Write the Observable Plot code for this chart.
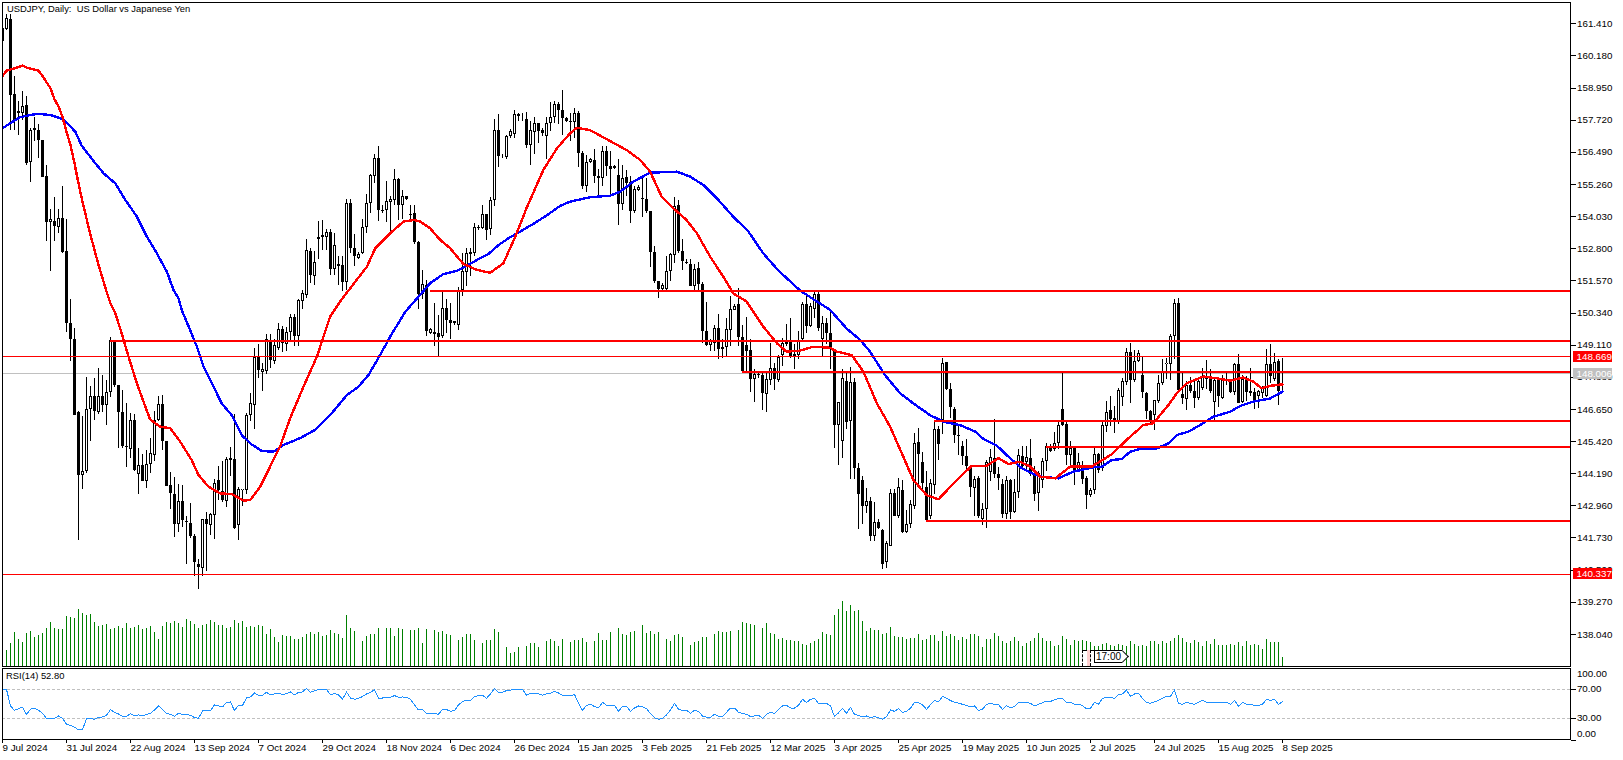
<!DOCTYPE html>
<html><head><meta charset="utf-8">
<script src="https://cdn.jsdelivr.net/npm/d3@7"></script>
<script src="https://cdn.jsdelivr.net/npm/@observablehq/plot@0.6"></script>
<style>
html,body{margin:0;padding:0;background:#fff;overflow:hidden}
#stage{position:relative;width:1623px;height:760px;overflow:hidden;font-family:"Liberation Sans",Arial,sans-serif}
#stage svg{position:absolute;left:0}
.w{position:absolute;box-sizing:border-box}
</style></head><body><div id="stage"></div>
<script>
const opens=[161.24,161.20,161.58,158.71,158.07,157.96,158.29,156.09,157.33,157.34,
156.96,155.55,153.80,153.86,153.61,153.96,152.71,149.92,149.31,146.55,
144.12,144.27,146.65,147.13,146.52,147.16,146.79,147.30,149.27,147.55,
146.55,145.23,145.12,146.24,144.17,144.52,143.89,144.55,144.90,146.24,
146.84,145.44,143.72,143.41,142.23,143.12,142.37,142.27,141.78,140.72,
140.57,142.42,142.20,142.58,143.91,143.50,143.12,144.71,144.75,142.20,
143.54,143.53,146.41,146.79,148.67,148.07,148.10,149.27,148.48,148.99,
149.69,149.15,149.60,150.18,149.43,150.78,151.00,152.71,151.73,153.14,
153.24,153.24,153.42,151.99,152.20,152.14,151.50,154.54,152.82,152.43,
152.60,153.62,154.54,155.56,156.26,154.28,154.26,154.58,154.64,155.46,
154.45,154.79,154.12,154.13,153.03,151.06,151.39,149.56,149.60,149.54,
149.43,150.52,150.06,149.92,149.86,151.20,151.89,152.65,152.60,153.62,
153.58,154.12,153.52,154.65,157.31,156.31,156.29,157.09,157.18,157.94,
157.88,157.73,156.77,157.26,157.60,157.31,157.11,157.60,157.83,158.33,
158.10,157.79,157.68,157.64,157.96,156.43,155.18,156.11,156.16,155.57,
155.48,156.54,155.94,155.94,155.62,154.51,155.51,155.33,154.22,155.02,
154.73,154.70,154.23,152.66,151.53,151.25,151.25,151.92,152.54,154.44,
152.71,152.28,152.20,151.35,152.03,151.45,149.65,149.08,149.18,149.73,
148.95,149.03,149.66,150.45,150.65,149.39,149.08,148.89,147.80,147.97,
147.93,147.23,147.75,148.23,147.75,148.73,149.15,149.24,148.67,148.73,
149.31,150.65,149.84,150.48,151.03,149.31,149.94,149.56,148.93,146.02,
145.42,147.71,146.17,147.69,144.40,143.91,142.95,143.14,141.78,142.33,
142.00,140.79,141.42,143.44,142.54,143.53,141.94,142.23,142.93,145.38,
144.63,143.67,142.54,143.73,145.89,146.21,148.45,147.42,146.63,145.64,
145.23,144.84,144.46,143.63,143.99,142.42,142.82,144.24,144.78,144.17,
143.78,142.61,143.91,142.70,143.46,144.84,144.61,144.78,144.14,143.44,
143.92,144.65,145.23,145.10,145.33,146.65,146.09,144.87,145.14,144.33,
144.37,143.99,143.34,143.56,144.91,144.37,145.99,146.59,146.31,146.15,
147.11,147.67,148.84,147.74,148.48,147.93,147.27,146.56,146.41,146.95,
147.65,148.37,148.35,149.43,150.71,147.23,147.04,147.55,147.35,147.05,
147.46,147.91,147.78,146.91,147.74,147.07,147.78,147.67,147.29,148.35,
146.91,147.78,147.27,147.30,147.14,147.27,147.14,148.35,147.78,148.48,148.07];
const highs=[161.24,161.78,161.75,159.41,158.43,158.83,158.61,157.41,157.83,157.57,
156.96,155.97,154.32,154.77,154.32,155.20,153.90,150.87,149.75,146.58,
146.37,147.88,147.52,147.82,148.23,147.93,147.75,149.39,149.27,147.55,
147.36,146.86,146.50,146.47,145.17,144.91,145.06,145.55,146.56,147.16,
147.20,145.44,144.23,144.04,143.78,143.72,142.57,143.06,141.87,140.91,
142.44,142.71,142.67,143.95,144.46,144.65,144.82,145.20,146.47,143.67,
143.59,146.50,147.24,148.99,149.12,148.39,149.50,149.52,149.31,149.95,
149.82,149.79,150.30,150.30,150.87,151.22,153.17,152.82,152.69,153.86,
153.87,153.54,153.54,153.39,152.52,152.52,154.67,154.67,153.36,152.65,
153.90,154.88,155.65,156.39,156.73,154.47,155.37,154.79,155.85,155.49,
155.01,154.79,154.46,154.47,153.07,151.95,151.60,149.75,150.71,150.24,
151.16,150.84,150.69,150.03,151.32,152.62,152.82,152.82,153.77,153.67,
154.45,154.12,154.77,157.75,157.92,156.39,157.15,157.37,158.08,157.98,
157.98,158.02,157.66,157.82,157.60,157.41,157.82,158.39,158.43,158.39,
158.84,157.82,157.98,158.17,158.05,156.54,156.35,156.26,156.60,155.84,
156.71,156.71,156.52,155.97,156.23,155.98,155.79,155.56,155.18,155.21,
155.53,155.49,154.23,152.88,151.54,151.48,152.50,152.62,154.77,154.64,
153.14,152.37,152.37,152.18,152.27,151.50,150.74,149.33,149.88,150.30,
149.33,150.14,150.97,150.65,151.28,149.88,150.18,149.33,148.19,148.03,
148.10,148.03,149.18,148.41,148.73,149.37,149.91,150.14,149.12,149.65,
150.74,151.03,150.71,151.16,151.16,150.20,150.14,150.46,148.93,146.92,
148.16,148.10,148.26,147.84,144.59,144.10,143.63,143.27,143.10,142.44,
142.04,141.59,143.57,143.57,144.01,143.92,142.78,143.18,145.74,145.93,
145.01,144.27,143.95,146.18,145.99,148.61,148.45,147.65,146.73,145.99,
145.44,145.48,144.52,144.08,144.08,143.05,144.71,145.10,146.27,144.43,
143.95,144.08,143.95,143.95,145.10,145.23,145.23,145.48,144.46,144.27,
144.78,145.35,145.29,145.76,146.18,148.01,146.15,145.42,145.14,144.95,
144.65,144.08,143.63,145.17,144.97,146.18,146.97,147.14,146.75,147.46,
147.84,148.99,149.18,148.89,148.89,148.63,147.29,146.59,147.01,147.93,
148.57,148.61,149.53,150.84,150.90,148.06,147.71,147.88,147.71,147.84,
148.23,148.52,148.16,147.84,147.84,147.93,148.03,147.75,148.41,148.77,
147.93,147.91,148.21,147.46,147.39,147.52,148.95,149.12,148.80,148.55,148.61];
const lows=[160.72,161.15,157.34,157.34,157.13,157.70,156.00,155.33,156.90,156.25,
155.52,153.07,151.92,153.07,153.39,152.62,149.59,148.48,146.40,141.65,
143.60,144.18,145.42,146.24,146.47,146.52,146.05,147.10,147.50,145.17,
145.17,144.42,144.78,144.27,143.41,143.89,143.63,144.18,144.65,146.18,
145.06,143.69,142.80,141.74,141.94,142.14,140.70,141.72,140.25,139.74,
140.27,140.44,141.82,141.69,143.16,143.09,142.89,144.08,142.06,141.63,
142.95,143.40,146.18,145.87,147.84,147.33,147.97,148.23,148.35,148.92,
148.82,148.86,149.22,149.05,149.05,150.48,150.90,151.48,151.41,152.37,
152.73,152.73,151.79,151.79,151.41,151.16,151.22,152.62,152.11,152.39,
152.56,153.39,154.16,155.30,153.84,154.16,153.80,153.46,154.45,153.87,
153.90,154.64,153.90,152.97,150.46,150.84,149.43,149.50,149.05,148.67,
149.37,149.56,149.31,149.88,149.66,150.97,151.35,151.73,152.50,153.49,
153.52,153.11,153.29,154.41,155.90,156.26,156.22,157.03,157.03,157.66,
157.66,156.62,155.98,156.39,156.84,157.09,156.20,157.28,157.60,157.54,
157.15,157.63,156.90,157.03,155.92,155.05,154.94,156.07,155.30,154.79,
155.18,155.56,154.86,155.84,153.68,154.28,154.79,153.75,154.16,154.98,
153.99,154.16,152.07,151.48,150.90,151.22,151.22,151.54,152.24,152.62,
151.96,152.21,151.35,151.22,151.22,149.18,149.05,148.86,148.86,148.56,
148.61,148.67,149.05,150.43,149.05,148.10,148.03,147.30,146.91,147.84,
146.60,146.52,147.55,147.39,147.67,148.29,149.05,148.61,148.16,148.55,
149.24,149.56,149.79,150.14,149.62,148.64,149.12,148.16,145.17,144.52,
144.78,145.87,143.95,143.95,142.04,142.23,142.67,141.59,141.59,142.06,
140.53,140.57,141.40,142.54,142.48,141.91,141.91,142.10,142.83,143.69,
143.50,142.38,142.42,143.41,144.71,145.68,147.36,146.31,145.36,144.87,
144.52,144.33,143.27,142.54,142.48,142.19,142.10,143.89,144.01,143.56,
142.48,142.42,142.42,142.67,143.24,144.33,144.33,144.08,143.14,142.76,
143.63,144.27,145.00,145.04,145.10,145.99,144.49,144.46,143.72,144.27,
143.76,142.80,143.28,143.41,144.20,144.27,145.78,145.99,145.71,146.09,
146.75,147.58,146.86,147.69,148.45,147.07,146.28,146.05,145.83,146.88,
147.58,147.78,147.75,148.57,147.37,146.82,146.60,147.24,146.69,147.01,
147.39,147.42,147.27,146.24,146.73,147.04,147.58,147.24,147.20,146.86,
146.88,146.95,147.16,146.65,146.69,147.07,147.11,147.65,147.71,146.79,147.33];
const closes=[160.72,161.62,158.68,157.66,157.97,158.26,156.07,157.33,157.41,156.94,
155.52,153.80,153.90,153.65,153.96,152.66,149.94,149.31,146.43,144.12,
144.29,146.65,147.14,146.56,147.16,146.79,147.30,149.28,147.55,146.52,
145.23,145.20,146.24,144.31,144.51,143.89,144.55,144.95,146.24,146.84,
145.42,143.69,143.42,142.23,143.14,142.39,142.34,141.78,140.79,140.59,
142.42,142.23,142.61,143.82,143.56,143.18,144.75,144.78,142.11,143.59,
143.59,146.43,146.88,148.63,148.13,148.16,149.31,148.52,149.08,149.71,
149.18,149.60,150.18,149.43,150.80,151.07,152.75,151.77,152.28,153.24,
153.31,153.42,151.99,152.94,152.11,151.50,154.54,152.80,152.50,152.59,
153.62,154.54,155.60,156.26,154.26,154.22,154.59,154.67,155.46,154.44,
154.79,154.67,154.09,153.03,151.03,151.44,149.63,149.69,149.50,149.41,
150.52,150.05,149.93,150.01,151.22,151.92,152.60,152.56,153.62,153.59,
154.12,153.49,154.65,157.31,156.32,156.29,157.11,157.28,157.94,157.88,
157.85,156.77,157.32,157.60,157.28,157.22,157.60,157.83,158.33,158.08,
157.78,157.66,157.63,157.96,156.43,155.18,156.11,156.20,155.56,155.48,
156.54,155.94,155.85,155.86,154.51,155.49,155.30,154.22,155.05,155.16,
154.70,154.22,152.65,151.54,151.25,151.41,151.94,152.56,154.41,152.71,
152.31,152.25,151.37,152.01,151.45,149.63,149.09,149.24,149.73,148.93,
149.03,149.69,150.48,150.58,149.39,148.10,148.86,147.78,147.97,147.94,
147.24,147.78,148.23,147.78,148.63,149.18,149.23,148.65,148.77,149.24,
150.67,149.84,150.58,151.03,149.75,149.94,149.54,148.99,146.02,146.92,
147.82,146.15,147.69,144.37,143.41,142.95,143.12,141.78,142.33,142.10,
140.73,141.50,143.44,142.57,143.67,141.94,142.25,143.02,145.33,144.91,
143.82,142.38,143.82,145.89,145.29,148.42,147.42,146.72,145.65,145.61,
144.84,144.46,143.66,143.97,142.54,142.82,144.61,144.82,144.14,143.99,
142.61,143.91,142.70,143.46,144.87,144.46,144.82,144.14,143.41,144.18,
144.65,145.23,145.04,145.35,146.05,146.05,144.87,145.17,144.33,144.61,
143.95,143.34,143.56,144.91,144.33,146.02,146.52,146.28,146.22,147.39,
147.71,148.84,147.74,148.50,148.80,147.29,146.56,146.22,146.98,147.65,
148.10,148.42,149.43,150.71,147.39,147.05,147.56,147.33,147.05,147.71,
147.91,147.78,147.33,147.74,147.14,147.74,147.71,147.30,148.35,146.88,
147.78,147.29,147.35,146.95,147.33,147.46,148.35,147.91,148.44,147.33,148.006];

const volumes=[0,51,72,105,84,75,102,108,90,96,102,117,135,117,114,114,153,150,147,174,162,156,159,135,123,126,129,114,117,123,
117,132,117,120,126,114,117,123,105,84,123,135,132,138,132,120,144,138,129,117,126,129,141,135,126,126,117,120,141,132,
138,120,123,120,126,123,99,114,90,75,96,93,93,84,84,90,99,105,99,105,93,96,111,102,99,87,156,117,108,0,
78,93,99,99,117,0,117,117,93,117,114,0,111,111,117,72,114,3,111,105,108,99,96,0,81,90,99,99,81,0,
72,81,81,114,105,0,60,42,45,60,0,63,72,72,60,0,78,84,78,63,84,0,75,81,81,87,75,0,78,102,
81,81,105,0,117,99,96,105,108,3,126,102,108,99,105,0,84,78,96,99,90,0,66,75,78,90,90,0,99,108,
105,105,108,0,111,135,132,129,126,0,117,132,102,99,84,87,81,81,78,78,69,66,72,78,84,105,99,96,156,174,
198,168,186,168,171,138,108,117,111,111,99,102,120,93,90,90,84,87,87,99,81,84,96,96,78,108,93,99,93,81,
90,84,99,99,93,60,84,84,102,93,78,72,78,90,78,63,72,78,87,102,87,78,78,63,66,93,84,66,81,78,
81,78,75,63,63,69,72,66,63,69,66,63,78,69,63,66,63,78,78,69,78,72,78,87,96,87,75,72,81,75,
63,78,69,84,66,66,66,69,66,75,63,78,66,69,66,54,84,75,75,75,30];

const rsi=[70,70,47,41,43.3,45.2,35.5,42.4,44.2,41,37,30,30,30,33.2,30,21.7,20.3,17.6,14.3,
14.3,29.5,30,28.6,31.4,31.8,34.1,42,38.3,36,32.7,32.7,36.4,33.2,34.6,33.2,35.5,36.9,41.5,47,
42.4,36.9,35.5,32.7,36.9,35.5,35,34.1,30.9,30,40.1,40.4,40.6,48.4,47,45.6,52.1,52.5,40.6,47.9,
47.9,58,59.4,64.9,61.7,61.7,65.9,62.2,63.6,64.5,62.6,64,66.3,62.2,65.9,66.3,71.4,65.9,67.7,70,
70,70,62.2,64.5,62.2,56.2,66.3,58,56.2,57.6,60,63.6,66,69.1,58,58,58.5,59,61.3,59,
59.4,59,56.2,48.4,41.5,42.4,36.9,36.9,36.5,35.5,42.4,42,39.6,40.6,48.4,53,54.8,54.8,59.9,61.3,
61.7,57.6,63.6,71.4,65.9,65.9,68.2,69,70,70,70,61.7,64.5,64,63.6,61.7,64,64.5,67.3,65,
61.7,61,60.8,63.1,50.7,41,47.9,49.3,46.1,44.2,52.1,47.9,47.9,47.9,39.6,46.5,46.5,39.6,44.2,47,
46.1,43.3,36.4,30.9,28.6,30,34.6,41.5,50.7,42.4,41,41,36.9,41,39.6,33.2,31.4,31.4,35.5,32.7,
32.7,38.3,44.2,44.2,38.3,36.9,35.5,32.3,33.2,34.1,30,35.5,38.3,36.9,42.4,47,47.9,44.2,44.2,47.9,
56.2,51.6,56.2,57.6,50.7,50.7,50.7,47,32.3,37.5,43.8,36.9,45.2,35.5,33.7,32.3,33.2,30.9,32.3,30.9,
28.6,32.3,41.5,39.6,43.3,38.3,39.6,43.8,52.1,51.6,48.4,42.4,48.8,54.4,52.5,60.3,57.6,54.4,52.1,51,
49.3,47.7,46.1,47,41,42.4,49.3,50.7,49.3,48.8,42.4,47.5,44.2,46.1,52.1,52.1,52.1,50.7,47,49.3,
51.6,53.4,53.4,55.3,57.6,57.6,51.6,52.1,49.3,49.3,47.5,42.9,43.8,52.1,49.3,57.6,59,58.5,57.6,63.1,
63.6,69.1,60.3,63.6,64.5,57.6,52.1,50.7,52.5,54.8,57.6,60.3,60.3,69.1,50.7,49.3,52.1,50.7,49.3,52.1,
54.8,52.1,52.1,52.1,51.2,52.1,52.1,49.3,54.8,46.5,52.1,49.3,49.3,47.5,47.5,49.3,56.2,54.8,56.2,49.3,52.8];

const maFastBars=[0,1,3,5,6,9,10,12,13,14,15,16,17,18,19,20,21,22,23,24,25,26,27,28.2,29.8,31.5,33.6,35.7,36.9,39.4,41.9,44.4,47.3,49,51.5,54.4,57.3,60.25,61.9,64.4,66.9,69.4,71.9,75.25,78.6,81.9,84.4,88.2,91.1,93.2,96.9,100.25,102.75,104.4,106.9,109.4,111.9,115.2,118.6,121.9,125.2,128.2,131,135.2,138.6,141.9,143.6,146.9,151.9,156,159.4,161.9,164.8,167.7,171,173.6,176.9,180.2,182.7,186,190.2,193.6,196,199.4,202.7,206.9,208.6,212.3,215.2,218.6,221.9,225.2,227.7,231,234,238.6,242.3,246,249,251.5,254.4,256.9,259.4,263.2,266.9,272.3,277.3,281,285.2,287.7,291.5,293.6,296,300.2,303.6,306.9,310.2,312.7,314.8,316.9,320];
const maFast=[159.41,159.62,159.70,159.81,159.73,159.62,159.41,158.94,158.52,158.24,157.85,157.28,156.77,156.07,155.30,154.60,153.96,153.33,152.75,152.18,151.67,151.16,150.71,150.33,149.56,148.67,147.65,146.76,146.27,145.99,145.93,145.42,144.71,144.14,143.69,143.44,143.41,143.16,143.18,143.69,144.46,145.23,146.31,147.52,148.67,150.20,150.78,151.54,152.11,152.82,153.39,153.84,153.90,153.84,153.58,153.14,152.82,152.22,151.99,151.88,152.24,153.26,154.35,155.81,156.64,157.22,157.43,157.34,156.92,156.58,156.20,155.75,154.79,154.35,153.90,153.39,152.50,151.73,151.09,150.78,149.82,149.18,148.86,148.90,149.05,149.01,148.86,148.73,148.10,146.88,145.99,144.84,143.95,143.37,143.21,143.95,144.49,144.49,144.78,144.56,144.65,144.46,144.08,144.01,144.46,144.46,144.93,145.48,146.05,146.12,146.82,147.27,147.65,147.91,147.84,147.75,147.87,147.71,147.46,147.55,147.61];
const maSlowBars=[0,1.9,4.4,6.9,9,11.9,15.25,18.2,19.8,22.75,25.25,28.2,30.7,33.6,36.1,38.6,41.1,42.75,44,44.8,46.9,48.6,50.25,52.75,54.8,57.3,59.8,61.9,64.8,67.75,70.25,74.4,78.2,81.9,86.1,89,91.5,94.4,96.9,100.7,104.4,106.9,110.2,113.6,116.1,118.6,121.5,124,126.5,129,132.7,136,139.4,141.9,146.9,151.9,154.4,157.7,161.9,168.6,171.9,175.2,178.6,182.3,186.5,190.2,194,199.4,203.6,206.9,211,214.4,216.9,220.6,224.4,227.7,231.9,235.2,239.4,243.2,245.2,248.6,251.9,254.8,257.7,259.4,264,267.7,272.7,274.8,277.3,279.8,281.9,284.4,288.6,291.5,293.6,296.5,299.4,302.7,306.9,309.4,312.7,314.8,316.9,320];
const maSlow=[157.41,157.60,157.83,157.92,157.96,157.92,157.75,157.28,156.74,156.16,155.69,155.30,154.67,154.03,153.26,152.62,151.92,151.22,150.90,150.46,149.69,149.05,148.29,147.52,146.88,146.43,145.67,145.35,145.06,145.03,145.29,145.55,145.87,146.43,147.20,147.52,147.97,148.73,149.43,150.39,151.03,151.48,151.83,151.96,152.15,152.37,152.60,152.94,153.20,153.42,153.75,154.07,154.44,154.60,154.77,154.83,154.98,155.37,155.71,155.75,155.56,155.24,154.73,154.09,153.45,152.62,151.96,151.20,150.78,150.46,149.75,149.31,148.86,147.97,147.27,146.88,146.43,146.18,146.05,145.80,145.52,145.26,144.78,144.40,144.18,144.08,144.01,144.27,144.43,144.46,144.71,144.75,145.03,145.14,145.16,145.35,145.67,145.80,146.05,146.37,146.56,146.78,146.95,147.01,147.07,147.33];

const levelPrices=[151.19,149.28,148.09,146.21,145.22,142.38];
const levelStarts=[107,27,185,233,261,231];
const thinLevels=[148.669,140.337];
const lastClose=148.006;
const priceTicks=[161.41,160.18,158.95,157.72,156.49,155.26,154.03,152.80,151.57,150.34,149.11,147.88,146.65,145.42,144.19,142.96,141.73,140.50,139.27,138.04];
const rsiLevels=[70,30];
const dateTicks=d3.range(0,321,16);
const dateLabels=["9 Jul 2024","31 Jul 2024","22 Aug 2024","13 Sep 2024","7 Oct 2024","29 Oct 2024","18 Nov 2024","6 Dec 2024","26 Dec 2024","15 Jan 2025","3 Feb 2025","21 Feb 2025","12 Mar 2025","3 Apr 2025","25 Apr 2025","19 May 2025","10 Jun 2025","2 Jul 2025","24 Jul 2025","15 Aug 2025","8 Sep 2025"];

const FONT='"Liberation Sans",Arial,sans-serif';
const bars=d3.range(opens.length);
const upBars=bars.filter(i=>closes[i]>=opens[i]);
const xOpt={domain:[0,392],range:[2,1570],axis:null};
const baseStyle={background:"transparent",fontFamily:FONT,fontSize:"9.8px",color:"#000"};
const crisp={shapeRendering:"crispEdges"};
const chips=[{p:148.669,fill:"#ff0000"},{p:lastClose,fill:"#c0c0c0"},{p:140.337,fill:"#ff0000"}];

const main=Plot.plot({
  width:1623,height:668,marginLeft:2,marginRight:53,marginTop:2,marginBottom:2,
  style:baseStyle,
  x:xOpt,
  y:{domain:[136.81,162.32],range:[666,-0.5],axis:null},
  marks:[
    Plot.ruleY([lastClose],{stroke:"#c0c0c0",strokeWidth:1,...crisp}),
    Plot.ruleX(bars,{x:i=>i,y1:i=>highs[i],y2:i=>lows[i],stroke:"#000",strokeWidth:1,clip:true,...crisp}),
    Plot.ruleX(bars,{x:i=>i,y1:i=>Math.max(opens[i],closes[i]),y2:i=>Math.min(opens[i],closes[i]),stroke:"#000",strokeWidth:3,clip:true,...crisp}),
    Plot.ruleX(upBars,{x:i=>i,y1:i=>closes[i],y2:i=>opens[i],stroke:"#fff",strokeWidth:1,insetTop:1,insetBottom:1,clip:true,...crisp}),
    Plot.line(maSlowBars,{x:d=>d,y:(d,i)=>maSlow[i],stroke:"#0000ff",strokeWidth:2.4,curve:"linear",clip:true,...crisp}),
    Plot.line(maFastBars,{x:d=>d,y:(d,i)=>maFast[i],stroke:"#ff0000",strokeWidth:2.4,curve:"linear",clip:true,...crisp}),
    Plot.ruleY(thinLevels,{stroke:"#ff0000",strokeWidth:1,...crisp}),
    Plot.ruleY(levelPrices,{x1:(d,i)=>levelStarts[i],x2:392,stroke:"#ff0000",strokeWidth:2,...crisp}),
    Plot.axisY({anchor:"right",ticks:priceTicks,tickFormat:d=>d.toFixed(3),tickSize:4.5,tickPadding:2,label:null,...crisp}),
    Plot.rect(chips,{x1:392.75,x2:402.5,y1:d=>d.p-0.205,y2:d=>d.p+0.205,fill:d=>d.fill,...crisp}),
    Plot.text(chips,{x:393.5,y:"p",text:d=>d.p.toFixed(3),fill:"#fff",textAnchor:"start"}),
    Plot.frame({stroke:"#000",strokeWidth:1,...crisp}),
    Plot.text(["USDJPY, Daily:\u00a0 US Dollar vs Japanese Yen"],{frameAnchor:"top-left",dx:4.5,dy:2.5,fontSize:9.4,fill:"#000"})
  ]
});
main.style.top="0px";

const vol=Plot.plot({
  width:1623,height:72,marginLeft:2,marginRight:53,marginTop:0,marginBottom:0,
  style:baseStyle,
  x:xOpt,
  y:{domain:[0,216],range:[71.5,-0.5],axis:null},
  marks:[Plot.ruleX(bars.filter(i=>volumes[i]>0),{x:i=>i,y1:i=>volumes[i],y2:0,stroke:"#008000",strokeWidth:1,...crisp})]
});
vol.style.top="595px";

const sub=Plot.plot({
  width:1623,height:92,marginLeft:2,marginRight:53,marginTop:0,marginBottom:21,
  style:baseStyle,
  x:xOpt,
  y:{domain:[0,100],range:[71.55,-0.95],axis:null},
  marks:[
    Plot.ruleY(rsiLevels,{stroke:"#c0c0c0",strokeWidth:1,strokeDasharray:"3,2",...crisp}),
    Plot.line(bars,{x:i=>i,y:i=>rsi[i],stroke:"#1e90ff",strokeWidth:1,curve:"linear",...crisp}),
    Plot.axisY({anchor:"right",ticks:[100,70,30,0],tickFormat:()=>"",tickSize:4.5,label:null,...crisp}),
    Plot.text(rsiLevels,{x:393.6,y:d=>d,text:d=>d.toFixed(2),textAnchor:"start",fill:"#000"}),
    Plot.text([100],{x:393.6,y:d=>d,text:d=>d.toFixed(2),textAnchor:"start",fill:"#000",dy:6}),
    Plot.text([0],{x:393.6,y:d=>d,text:d=>d.toFixed(2),textAnchor:"start",fill:"#000",dy:-6}),
    Plot.frame({stroke:"#000",strokeWidth:1,...crisp}),
    Plot.axisX({anchor:"bottom",ticks:dateTicks,tickFormat:i=>dateLabels[i/16],tickSize:4,tickPadding:1,textAnchor:"start",label:null,...crisp}),
    Plot.text(["RSI(14) 52.80"],{frameAnchor:"top-left",dx:3.5,dy:4,fontSize:9.4,fill:"#000"})
  ]
});
sub.style.top="668px";

const stage=document.getElementById("stage");
stage.append(vol,main,sub);

// one-click trading widget sitting over the volume bars
function box(l,t,w,h,css,txt){const d=document.createElement("div");d.className="w";d.style.cssText=`left:${l}px;top:${t}px;width:${w}px;height:${h}px;${css}`;if(txt)d.textContent=txt;stage.append(d);}
box(1082,650,44,16,"background:#fff");
box(1082,650,5,16,"border-left:1px dashed #000;border-top:1px solid #000");
box(1087,650,3,16,"background:#ffd0d0");
box(1090,650,4,16,"border-left:1px dashed #000;border-top:1px solid #000");
box(1118,652,9,9,"transform:rotate(45deg);border-top:1px solid #000;border-right:1px solid #000;background:#fff");
box(1094,650,28,13,"border:1px solid #000;border-right:none;background:#fff;font-size:10px;line-height:11px;text-align:center;color:#000","17:00");
</script></body></html>
